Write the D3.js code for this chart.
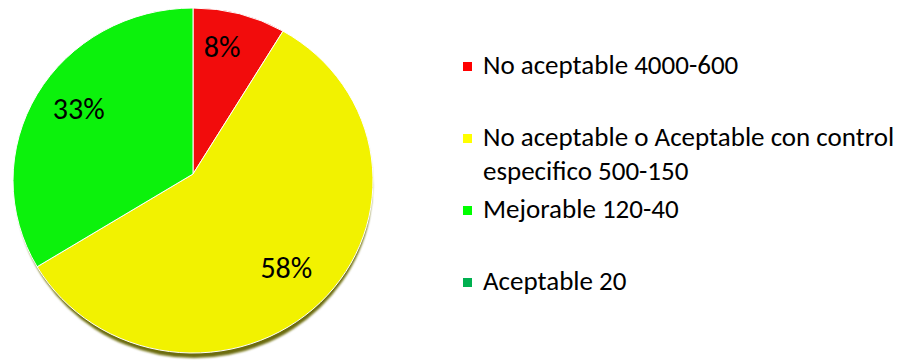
<!DOCTYPE html>
<meta charset="utf-8">
<body>
<script src="https://cdn.jsdelivr.net/npm/d3@7"></script>
<style>
    html, body {
        margin: 0;
        background: #fff;
    }
    text {
        font-family: Carlito, Calibri, Lato, sans-serif;
    }
</style>
<script>
var width = 916,
    height = 360;

// data
var categories = ["No aceptable 4000-600", "No aceptable o Aceptable con control especifico 500-150", "Mejorable 120-40", "Aceptable 20"];
var legendLines = [["No aceptable 4000-600"], ["No aceptable o Aceptable con control", "especifico 500-150"], ["Mejorable 120-40"], ["Aceptable 20"]];
var values = [1, 7, 4, 0];
var sliceColors = ["#f20c0c", "#f2f200", "#0cf20c", "#00b050"];
var legendColors = ["#ff0000", "#ffff00", "#00ff00", "#00b050"];

var apex = [193, 174],
    cx = 193, cy = 180.5,
    rx = 180, ry = 172.5;

var svg = d3.select("body").append("svg")
    .attr("width", width)
    .attr("height", height);

var defs = svg.append("defs");
defs.append("filter").attr("id", "blur")
    .append("feGaussianBlur").attr("stdDeviation", 0.8);

var pie = d3.pie().sort(null).value(function(d) { return d; });
var arcs = pie(values);

function pt(a) {
    return [cx + rx * Math.sin(a), cy - ry * Math.cos(a)];
}

function slicePath(d) {
    var p0 = pt(d.startAngle), p1 = pt(d.endAngle),
        large = d.endAngle - d.startAngle > Math.PI ? 1 : 0;
    return "M" + apex + "L" + p0 + "A" + rx + "," + ry + " 0 " + large + " 1 " + p1 + "Z";
}

// side / shadow
svg.append("ellipse")
    .attr("cx", cx + 1)
    .attr("cy", cy + 5)
    .attr("rx", rx - 1.5)
    .attr("ry", ry)
    .attr("fill", "#6c6c08")
    .attr("filter", "url(#blur)");

svg.append("g").selectAll("path")
    .data(arcs.filter(function(d) { return d.value > 0; }))
    .enter().append("path")
    .attr("d", slicePath)
    .attr("fill", function(d) { return sliceColors[d.index]; })
    .attr("stroke", "#fff")
    .attr("stroke-width", 1)
    .attr("stroke-linejoin", "round");

var labelArc = d3.arc().innerRadius(132).outerRadius(132);
var total = d3.sum(values);

svg.append("g")
    .attr("transform", "translate(" + apex + ")")
    .selectAll("text")
    .data(arcs.filter(function(d) { return d.value > 0; }))
    .enter().append("text")
    .attr("transform", function(d) { return "translate(" + labelArc.centroid(d) + ")"; })
    .attr("dx", function(d) { return d.index === 0 ? -5 : 0; })
    .attr("dy", "0.35em")
    .attr("text-anchor", "middle")
    .style("font-size", "30px")
    .attr("fill", "#000")
    .text(function(d) { return d3.format(".0%")(d.value / total); });

// legend
var legend = svg.append("g").selectAll("g")
    .data(categories)
    .enter().append("g")
    .attr("transform", function(d, i) { return "translate(463," + (74 + i * 72) + ")"; });

legend.append("rect")
    .attr("y", -12)
    .attr("width", 9)
    .attr("height", 9)
    .attr("fill", function(d, i) { return legendColors[i]; });

legend.append("text")
    .attr("x", 20)
    .style("font-size", "27px")
    .attr("fill", "#000")
    .selectAll("tspan")
    .data(function(d, i) { return legendLines[i]; })
    .enter().append("tspan")
    .attr("x", 20)
    .attr("y", function(d, j) { return j * 34; })
    .text(function(d) { return d; });
</script>
